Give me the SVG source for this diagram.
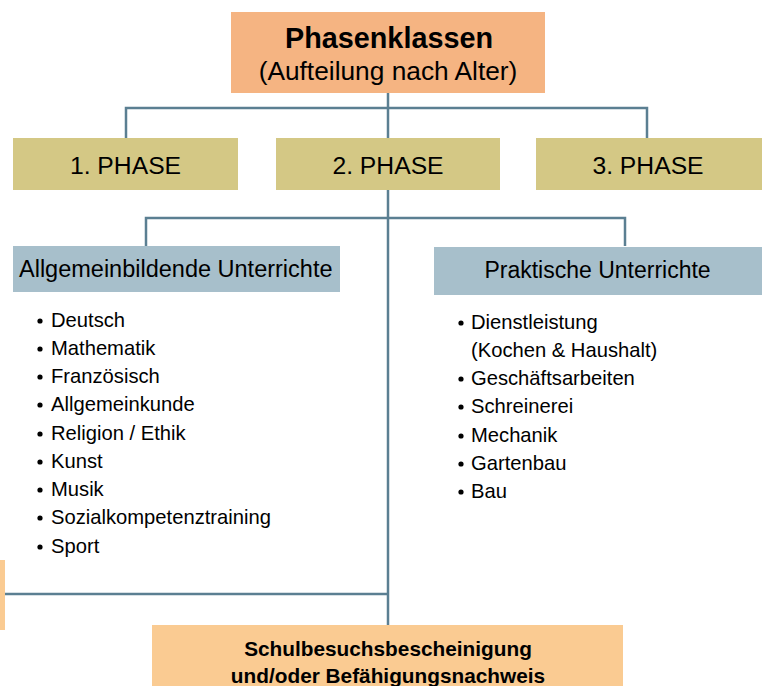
<svg xmlns="http://www.w3.org/2000/svg" width="762" height="686" viewBox="0 0 762 686">
<style>
text{font-family:"Liberation Sans",Arial,sans-serif;fill:#000}
.c{text-anchor:middle}
.ln{stroke:#5B7F92;stroke-width:2.5;fill:none}
.phase{fill:#D4C885}
.sub{fill:#A7BFCB}
.li{font-size:20.2px}
.b{fill:#000}
</style>
<rect width="762" height="686" fill="#fff"/>
<g id="connectors">
<path class="ln" d="M388 93V625"/>
<path class="ln" d="M126 138V108H647V138"/>
<path class="ln" d="M146 246V218H625V246"/>
<path class="ln" d="M5 594H388"/>
</g>
<g id="top">
<rect x="231" y="12" width="314" height="81" fill="#F5B482"/>
<text class="c" x="389" y="48" font-size="28.8" font-weight="bold">Phasenklassen</text>
<text class="c" x="388" y="80" font-size="26.3">(Aufteilung nach Alter)</text>
</g>
<g id="phase1">
<rect class="phase" x="13" y="138" width="225" height="52"/>
<text class="c" x="125.5" y="174" font-size="24.7">1. PHASE</text>
</g>
<g id="phase2">
<rect class="phase" x="276" y="138" width="224" height="52"/>
<text class="c" x="388" y="174" font-size="24.7">2. PHASE</text>
</g>
<g id="phase3">
<rect class="phase" x="536" y="138" width="226" height="52"/>
<text class="c" x="648" y="174" font-size="24.7">3. PHASE</text>
</g>
<g id="allgemein">
<rect class="sub" x="13" y="246" width="327" height="46"/>
<text x="19" y="277" font-size="23.5">Allgemeinbildende Unterrichte</text>
</g>
<g id="allgemein-list" class="li">
<circle class="b" cx="40" cy="321" r="2.6"/><text x="51" y="327">Deutsch</text>
<circle class="b" cx="40" cy="349" r="2.6"/><text x="51" y="355">Mathematik</text>
<circle class="b" cx="40" cy="377" r="2.6"/><text x="51" y="383">Französisch</text>
<circle class="b" cx="40" cy="405" r="2.6"/><text x="51" y="411">Allgemeinkunde</text>
<circle class="b" cx="40" cy="434" r="2.6"/><text x="51" y="440">Religion / Ethik</text>
<circle class="b" cx="40" cy="462" r="2.6"/><text x="51" y="468">Kunst</text>
<circle class="b" cx="40" cy="490" r="2.6"/><text x="51" y="496">Musik</text>
<circle class="b" cx="40" cy="518" r="2.6"/><text x="51" y="524">Sozialkompetenztraining</text>
<circle class="b" cx="40" cy="547" r="2.6"/><text x="51" y="553">Sport</text>
</g>
<g id="praktisch">
<rect class="sub" x="434" y="247" width="328" height="48"/>
<text class="c" x="597.5" y="278" font-size="23">Praktische Unterrichte</text>
</g>
<g id="praktisch-list" class="li">
<circle class="b" cx="461" cy="323" r="2.6"/><text x="471" y="329">Dienstleistung</text>
<text x="471" y="357">(Kochen &amp; Haushalt)</text>
<circle class="b" cx="461" cy="379" r="2.6"/><text x="471" y="385">Geschäftsarbeiten</text>
<circle class="b" cx="461" cy="407" r="2.6"/><text x="471" y="413">Schreinerei</text>
<circle class="b" cx="461" cy="436" r="2.6"/><text x="471" y="442">Mechanik</text>
<circle class="b" cx="461" cy="464" r="2.6"/><text x="471" y="470">Gartenbau</text>
<circle class="b" cx="461" cy="492" r="2.6"/><text x="471" y="498">Bau</text>
</g>
<g id="left-partial">
<rect x="0" y="560" width="5" height="70" fill="#FACB92"/>
</g>
<g id="bottom">
<rect x="152" y="625" width="471" height="61" fill="#FACB92"/>
<text class="c" x="388" y="656" font-size="20.8" font-weight="bold">Schulbesuchsbescheinigung</text>
<text class="c" x="388" y="683" font-size="20.8" font-weight="bold">und/oder Befähigungsnachweis</text>
</g>
</svg>
